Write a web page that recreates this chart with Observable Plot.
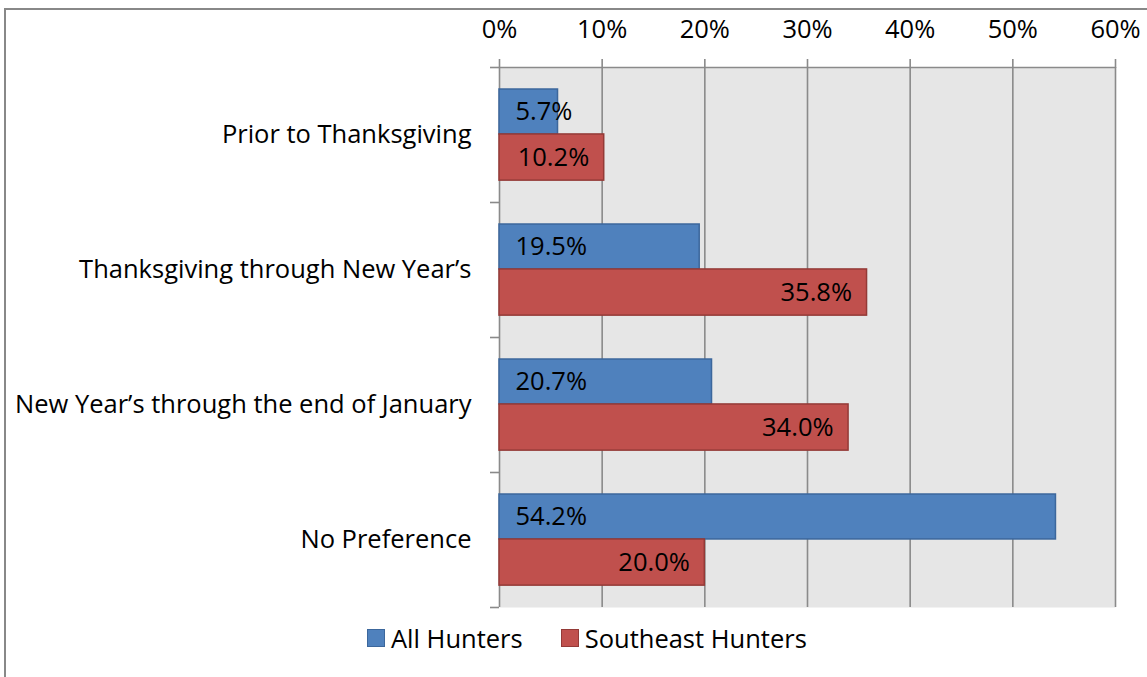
<!DOCTYPE html>
<html>
<head>
<meta charset="utf-8">
<script src="https://cdn.jsdelivr.net/npm/d3@7"></script>
<script src="https://cdn.jsdelivr.net/npm/@observablehq/plot@0.6"></script>
<style>
  html, body { margin: 0; padding: 0; background: #fff; }
  #wrap { position: relative; width: 1147px; height: 677px; overflow: hidden; font-family: "Open Sans", Lato, sans-serif; }
  #border { position: absolute; left: 4px; top: 8px; width: 1200px; height: 700px; border-left: 2px solid #888; border-top: 2px solid #888; box-sizing: border-box; }
  #chart { position: absolute; left: 0; top: 0; }
  #legend { position: absolute; left: 367px; top: 621px; font-size: 25.5px; color: #000; display: flex; align-items: center; white-space: nowrap; }
  .sw { display: inline-block; width: 16px; height: 16px; border: 1.5px solid; margin-right: 6px; }
  .item { display: inline-flex; align-items: center; margin-right: 38px; }
</style>
</head>
<body>
<div id="wrap">
  <div id="border"></div>
  <div id="chart"></div>
  <div id="legend"></div>
</div>
<script>
const categories = [
  "Prior to Thanksgiving",
  "Thanksgiving through New Year’s",
  "New Year’s through the end of January",
  "No Preference"
];
const allHunters = [5.7, 19.5, 20.7, 54.2];
const southeastHunters = [10.2, 35.8, 34.0, 20.0];
const seriesNames = ["All Hunters", "Southeast Hunters"];
const xTicks = [0, 10, 20, 30, 40, 50, 60];

const fills = ["#4f81bd", "#c0504d"];
const strokes = ["#3c679c", "#943a37"];
const gridColor = "#8a8a8a";
const FONT = "'Open Sans', Lato, sans-serif";
const FS = 25.5;

const rows = categories.map((c, i) => ({c, i, all: allHunters[i], se: southeastHunters[i]}));
const fmt = v => v.toFixed(1) + "%";

const chart = Plot.plot({
  width: 1147,
  height: 608,
  marginTop: 67,
  marginBottom: 1,
  marginLeft: 499,
  marginRight: 32,
  style: {fontFamily: FONT, fontSize: FS + "px", color: "#000", background: "transparent", overflow: "visible"},
  x: {domain: [0, 60], ticks: xTicks},
  y: {domain: [0, categories.length], reverse: true},
  marks: [
    Plot.frame({fill: "#e6e6e6", stroke: null}),
    Plot.ruleX(xTicks, {stroke: gridColor, strokeWidth: 1.6}),
    Plot.ruleY([0], {stroke: gridColor, strokeWidth: 1.6}),
    Plot.axisX({anchor: "top", ticks: xTicks, tickSize: 9, tickPadding: 21, stroke: gridColor, strokeWidth: 1.6, strokeOpacity: 1, tickFormat: d => d + "%", fill: "#000", label: null}),
    Plot.axisY({ticks: d3.range(categories.length + 1), tickSize: 9, stroke: gridColor, strokeWidth: 1.6, strokeOpacity: 1, tickFormat: () => "", label: null}),
    Plot.rect(rows, {x1: 0, x2: "all", y1: d => d.i + 0.163, y2: d => d.i + 0.496, fill: fills[0], stroke: strokes[0], strokeWidth: 1.5}),
    Plot.rect(rows, {x1: 0, x2: "se", y1: d => d.i + 0.496, y2: d => d.i + 0.838, fill: fills[1], stroke: strokes[1], strokeWidth: 1.5}),
    Plot.text(rows, {x: 0, y: d => d.i + 0.33, text: d => fmt(d.all), textAnchor: "start", dx: 16, fontSize: FS, fill: "#000"}),
    Plot.text(rows, {x: "se", y: d => d.i + 0.667, text: d => fmt(d.se), textAnchor: "end", dx: -15, fontSize: FS, fill: "#000"}),
    Plot.text(rows, {x: 0, y: d => d.i + 0.5, text: "c", textAnchor: "end", dx: -28, fontSize: FS, fill: "#000"})
  ]
});
document.getElementById("chart").appendChild(chart);

const legend = document.getElementById("legend");
seriesNames.forEach((name, k) => {
  const item = document.createElement("span");
  item.className = "item";
  const sw = document.createElement("span");
  sw.className = "sw";
  sw.style.background = fills[k];
  sw.style.borderColor = strokes[k];
  item.appendChild(sw);
  item.appendChild(document.createTextNode(name));
  legend.appendChild(item);
});
</script>
</body>
</html>
